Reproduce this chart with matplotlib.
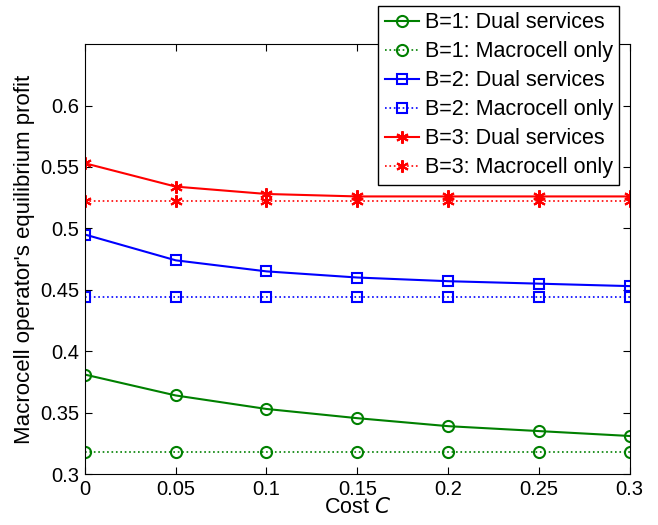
import matplotlib
matplotlib.use("Agg")
import matplotlib.pyplot as plt
import numpy as np

plt.rcParams['font.family'] = ['Liberation Sans', 'DejaVu Sans']

# data
cost = [0, 0.05, 0.1, 0.15, 0.2, 0.25, 0.3]
b1_dual = [0.381, 0.364, 0.353, 0.3455, 0.339, 0.335, 0.331]
b1_macro = [0.318] * 7
b2_dual = [0.495, 0.474, 0.465, 0.460, 0.457, 0.455, 0.453]
b2_macro = [0.444] * 7
b3_dual = [0.553, 0.534, 0.528, 0.526, 0.526, 0.526, 0.526]
b3_macro = [0.522] * 7

fig = plt.figure(figsize=(6.58, 5.25), dpi=100)
ax = fig.add_axes([0.129, 0.097, 0.828, 0.819])

green = "#008000"
ax.plot(cost, b1_dual, "-", color=green, marker="o", mfc="none", ms=8, mew=1.5, lw=1.5, label="B=1: Dual services")
ax.plot(cost, b1_macro, ":", color=green, marker="o", mfc="none", ms=8, mew=1.5, lw=1.2, label="B=1: Macrocell only")
ax.plot(cost, b2_dual, "-", color="b", marker="s", mfc="none", ms=7.5, mew=1.5, lw=1.5, label="B=2: Dual services")
ax.plot(cost, b2_macro, ":", color="b", marker="s", mfc="none", ms=7.5, mew=1.5, lw=1.2, label="B=2: Macrocell only")
ax.plot(cost, b3_dual, "-", color="r", marker=(6, 2, 0), ms=9, mew=1.5, lw=1.5, label="B=3: Dual services")
ax.plot(cost, b3_macro, ":", color="r", marker=(6, 2, 0), ms=9, mew=1.5, lw=1.2, label="B=3: Macrocell only")

ax.set_xlim(0, 0.3)
ax.set_ylim(0.3, 0.65)
ax.set_xticks(cost)
ax.set_xticklabels(["0", "0.05", "0.1", "0.15", "0.2", "0.25", "0.3"])
ax.set_yticks([0.3, 0.35, 0.4, 0.45, 0.5, 0.55, 0.6])
ax.set_yticklabels(["0.3", "0.35", "0.4", "0.45", "0.5", "0.55", "0.6"])
ax.tick_params(direction="in", top=True, right=True, labelsize=14.5, length=5, pad=4)
ax.set_xlabel("Cost $\\mathit{C}$", fontsize=15.5, labelpad=-1)
ax.set_ylabel("Macrocell operator's equilibrium profit", fontsize=16, labelpad=4)

leg = ax.legend(loc="upper right", bbox_to_anchor=(0.941, 0.989), bbox_transform=fig.transFigure,
                fontsize=15.5, fancybox=False, edgecolor="k", framealpha=1,
                handlelength=1.6, handletextpad=0.25, borderpad=0.3, labelspacing=0.37,
                borderaxespad=0)
leg.get_frame().set_linewidth(1.0)

plt.savefig("out.png", dpi=100)
